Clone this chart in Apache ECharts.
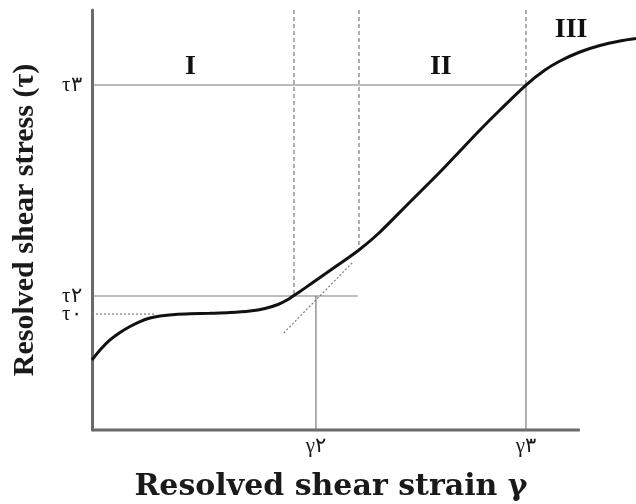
<!DOCTYPE html>
<html>
<head>
<meta charset="utf-8">
<script src="https://cdn.jsdelivr.net/npm/echarts@6/dist/echarts.min.js"></script>
<style>html,body{margin:0;padding:0;background:#fff}#c{width:636px;height:504px}</style>
</head>
<body>
<div id="c"></div>
<script>
// Stress–strain curve (strain axis drawn 0..100, stress 0..100)
const strain = [0, 1.64, 3.69, 5.74, 7.79, 9.84, 11.89, 13.94, 17.01, 20.09, 24.19, 28.28, 32.38, 35.46, 38.12, 40.17, 41.20, 42.63, 44.68, 46.73, 50.83, 54.72, 58.82, 64.97, 71.33, 75.43, 79.52, 83.62, 88.95, 92.85, 95.93, 100.0, 104.1, 108.2, 111.5];
const stress = [16.67, 19.05, 21.43, 23.21, 24.64, 25.83, 26.67, 27.14, 27.5, 27.67, 27.79, 27.95, 28.33, 28.93, 29.88, 31.07, 31.90, 32.98, 34.64, 36.31, 39.64, 42.86, 46.90, 54.05, 61.43, 66.43, 71.43, 76.19, 82.14, 85.71, 87.86, 90.0, 91.55, 92.62, 93.21];

// Tick positions and labels
const tauTicks = [27.6, 31.9, 82.14];
const tauLabels = ['τ۰', 'τ۲', 'τ۳'];
const gammaTicks = [45.9, 88.95];
const gammaLabels = ['γ۲', 'γ۳'];

// Stage boundaries (dashed) and where they end
const stageBounds = [41.4, 54.72, 88.95];
const stageBoundEnds = [31.9, 42.86, 82.14];
const stageNames = ['I', 'II', 'III'];
const stageLabelX = [20.2, 71.5, 98.2];
const stageLabelY = [86.5, 86.5, 95.3];

// Guide line extents
const strainAxisEnd = 100;
const tau3End = 88.95;
const tau2End = 54.5;
const tau0End = 12.9;
const tangentX = [39.3, 53.5];
const tangentY = [23.1, 40.0];
const axisTop = 100;

// label nudges (pixels), styling only
const tauLabelNudge = [4, -2, 5];

const serif = "'Liberation Serif', 'Times New Roman', serif";
const wideSerif = "'DejaVu Serif', 'Liberation Serif', serif";
const guide = { color: '#7a7a7a', width: 1.2 };

function seg(pts, type, style) {
  return {
    type: 'line', data: pts, symbol: 'none', silent: true, clip: false,
    lineStyle: Object.assign({ color: guide.color, width: guide.width, type: type || 'solid' }, style || {}),
    z: 1
  };
}

const series = [];
// x axis line (ends before the curve does)
series.push(seg([[0, 0], [strainAxisEnd, 0]], 'solid', { color: '#6a6a6a', width: 3 }));
series.push(seg([[0, tauTicks[2]], [tau3End, tauTicks[2]]]));
series.push(seg([[0, tauTicks[1]], [tau2End, tauTicks[1]]]));
series.push(seg([[0, tauTicks[0]], [tau0End, tauTicks[0]]], [2, 2]));
series.push(seg([[gammaTicks[0], 0], [gammaTicks[0], tauTicks[1]]]));
series.push(seg([[gammaTicks[1], 0], [gammaTicks[1], tauTicks[2]]]));
stageBounds.forEach((b, i) => {
  series.push(seg([[b, axisTop], [b, stageBoundEnds[i]]], [4, 3]));
});
series.push(seg([[tangentX[0], tangentY[0]], [tangentX[1], tangentY[1]]], [2, 2]));

series.push({
  type: 'line', data: strain.map((x, i) => [x, stress[i]]), smooth: 0.3,
  symbol: 'none', clip: false, silent: true,
  lineStyle: { color: '#111', width: 3 }, z: 3
});

// stage names
series.push({
  type: 'scatter', symbolSize: 1, itemStyle: { color: 'transparent', opacity: 1 }, silent: true, clip: false,
  data: stageNames.map((n, i) => ({ name: n, value: [stageLabelX[i], stageLabelY[i]] })),
  label: {
    show: true, position: 'inside', formatter: p => p.name,
    fontFamily: serif, fontWeight: 'bold', fontSize: 28, color: '#111', textBorderWidth: 0
  },
  z: 4
});

// τ tick labels on the stress axis
series.push({
  type: 'scatter', symbolSize: 1, itemStyle: { color: 'transparent', opacity: 1 }, silent: true, clip: false,
  data: tauTicks.map((t, i) => ({
    name: tauLabels[i], value: [0, t],
    label: { offset: [0, tauLabelNudge[i]] }
  })),
  label: {
    show: true, position: 'left', distance: 10, formatter: p => p.name,
    fontFamily: serif, fontSize: 21, color: '#1a1a1a', textBorderWidth: 0
  },
  labelLayout: { hideOverlap: false },
  z: 4
});

const chart = echarts.init(document.getElementById('c'), null, { renderer: 'canvas' });
chart.setOption({
  animation: false,
  backgroundColor: '#fff',
  grid: { left: 92, right: 0, top: 10, bottom: 74, outerBoundsMode: 'none', containLabel: false },
  xAxis: {
    type: 'value', min: 0, max: 111.5,
    name: 'Resolved shear strain γ', nameLocation: 'middle', nameGap: 42,
    nameTextStyle: { fontFamily: wideSerif, fontWeight: 'bold', fontSize: 30, color: '#1a1a1a', padding: [0, 66, 0, 0] },
    axisLine: { show: false },
    axisTick: { show: false },
    splitLine: { show: false },
    axisLabel: {
      customValues: gammaTicks, margin: 6, hideOverlap: false, showMinLabel: true, showMaxLabel: true,
      formatter: v => gammaLabels[gammaTicks.indexOf(v)] || '',
      fontFamily: serif, fontSize: 21, color: '#1a1a1a'
    }
  },
  yAxis: {
    type: 'value', min: 0, max: 100,
    name: 'Resolved shear stress (τ)', nameLocation: 'middle', nameGap: 52,
    nameTextStyle: { fontFamily: serif, fontWeight: 'bold', fontSize: 30, color: '#1a1a1a' },
    axisLine: { show: true, lineStyle: { color: '#6a6a6a', width: 3 } },
    axisTick: { show: false },
    splitLine: { show: false },
    axisLabel: { show: false }
  },
  series: series
});
</script>
</body>
</html>
